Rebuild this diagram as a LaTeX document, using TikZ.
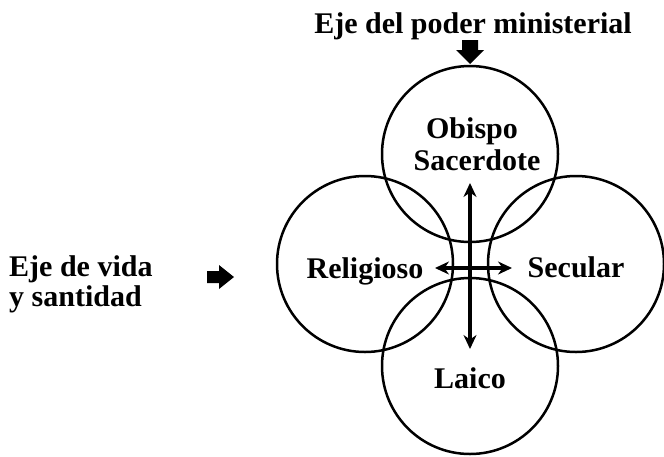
\documentclass[tikz,border=0pt]{standalone}
\usepackage{fontspec}
\setmainfont{Liberation Serif}
\usetikzlibrary{arrows.meta}
\begin{document}
\begin{tikzpicture}[x=1pt,y=-1pt,
  lbl/.style={font=\fontsize{30}{34}\selectfont\bfseries, inner sep=0pt, anchor=base},
  lblw/.style={lbl, anchor=base west},
  ring/.style={draw, circle, line width=2.5pt, minimum size=176pt, inner sep=0pt},
  axis/.style={line width=3.4pt, {Stealth[length=14pt,width=13pt]}-{Stealth[length=14pt,width=13pt]}},
  blockarrow/.style={fill=black}]
\useasboundingbox (0,0) rectangle (664,456);
% circles
\node[ring] (top) at (470,154) {};
\node[ring] (bot) at (470,366) {};
\node[ring] (lef) at (365,264) {};
\node[ring] (rig) at (576,264) {};
% labels
\node[lbl] (title) at (473,33) {Eje del poder ministerial};
\node[lbl] (obispo) at (472,138) {Obispo};
\node[lbl] (sacer) at (477,170) {Sacerdote};
\node[lbl] (relig) at (365,278) {Religioso};
\node[lbl] (secul) at (576,277) {Secular};
\node[lbl] (laico) at (470,388) {Laico};
\node[lblw] (vida) at (9,276) {Eje de vida};
\node[lblw] (sant) at (9,306) {y santidad};
% central axes
\coordinate (vt) at (470,183);
\coordinate (vb) at (470,349);
\coordinate (hl) at (435,268);
\coordinate (hr) at (512,268);
\draw[axis] (vt) -- (vb);
\draw[axis] (hl) -- (hr);
% block arrows
\fill[blockarrow] (462,40) -- (478,40) -- (478,50) -- (484,50) -- (470,64) -- (456,50) -- (462,50) -- cycle;
\fill[blockarrow] (207,271) -- (219,271) -- (219,265) -- (234,277) -- (219,289) -- (219,283) -- (207,283) -- cycle;
\end{tikzpicture}
\end{document}
